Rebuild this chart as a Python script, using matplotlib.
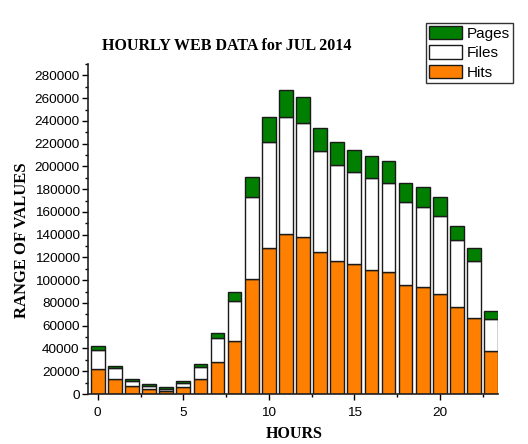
import numpy as np
import matplotlib
matplotlib.use('Agg')
import matplotlib.pyplot as plt
from matplotlib.ticker import MultipleLocator

# stacked segment heights per hour
hours = np.arange(24)
hits = [21900, 12900, 6700, 4100, 2600, 5800, 13500, 27800, 46500, 100700,
        128400, 140200, 138400, 124400, 116500, 114400, 109400, 107100,
        95700, 94200, 88100, 76100, 66400, 37400]
files_top = [38350, 22500, 11400, 6700, 4100, 9900, 23400, 48900, 81600, 173500,
             221200, 243100, 238500, 213300, 201300, 195400, 189600, 185800,
             168500, 164700, 156500, 134900, 117000, 65800]
pages_top = [42400, 24900, 12900, 8500, 6100, 11400, 26000, 53800, 89800, 190700,
             243100, 267100, 261000, 234100, 221500, 214700, 209500, 204800,
             185800, 182000, 172900, 147700, 128700, 72600]
files = np.array(files_top) - np.array(hits)
pages = np.array(pages_top) - np.array(files_top)

serif = 'Liberation Serif'
sans = 'Liberation Sans'

fig = plt.figure(figsize=(5.28, 4.44), dpi=100)
ax = fig.add_axes([88/528, 50/444, 410/528, 330/444])

w = 0.8
ec = '#1a1a1a'
b1 = ax.bar(hours, hits, w, color='#ff8000', edgecolor=ec, lw=1, label='Hits')
b2 = ax.bar(hours, files, w, bottom=hits, color='white', edgecolor=ec, lw=1, label='Files')
b3 = ax.bar(hours, pages, w, bottom=files_top, color='#007f00', edgecolor=ec, lw=1, label='Pages')

ax.set_xlim(-0.57, 23.4)
ax.set_ylim(0, 290000)
ax.set_xticks([0, 5, 10, 15, 20])
ax.xaxis.set_minor_locator(MultipleLocator(2.5))
ax.set_yticks(np.arange(0, 280001, 20000))
ax.yaxis.set_minor_locator(MultipleLocator(10000))
ax.tick_params(which='major', direction='out', length=4, width=1, labelsize=9.7, pad=2)
ax.tick_params(which='minor', direction='out', length=2.5, width=1)
for lab in ax.get_xticklabels() + ax.get_yticklabels():
    lab.set_fontfamily(sans)
ax.tick_params(axis='x', pad=5)

for s in ['top', 'right']:
    ax.spines[s].set_visible(False)
for s in ['left', 'bottom']:
    ax.spines[s].set_linewidth(1.2)
    ax.spines[s].set_color('#222222')

fig.text(227/528, 1 - 46/444, 'HOURLY WEB DATA for JUL 2014', family=serif,
         weight='bold', fontsize=11.5, ha='center', va='center')
fig.text(22/528, 1 - 240/444, 'RANGE OF VALUES', family=serif, weight='bold',
         fontsize=12, rotation=90, ha='center', va='center')
fig.text(294/528, 1 - 434/444, 'HOURS', family=serif, weight='bold',
         fontsize=11.5, ha='center', va='center')

leg = fig.legend(handles=[b3, b2, b1], labels=['Pages', 'Files', 'Hits'],
                 loc='upper right', bbox_to_anchor=(513/528, 1 - 23/444),
                 prop={'family': sans, 'size': 11}, frameon=True, fancybox=False,
                 borderpad=0.2, labelspacing=0.3, handlelength=2.2, handleheight=0.95,
                 handletextpad=0.3, borderaxespad=0)
leg.get_frame().set_edgecolor('black')
leg.get_frame().set_linewidth(1)

fig.savefig('out.png', dpi=100)
